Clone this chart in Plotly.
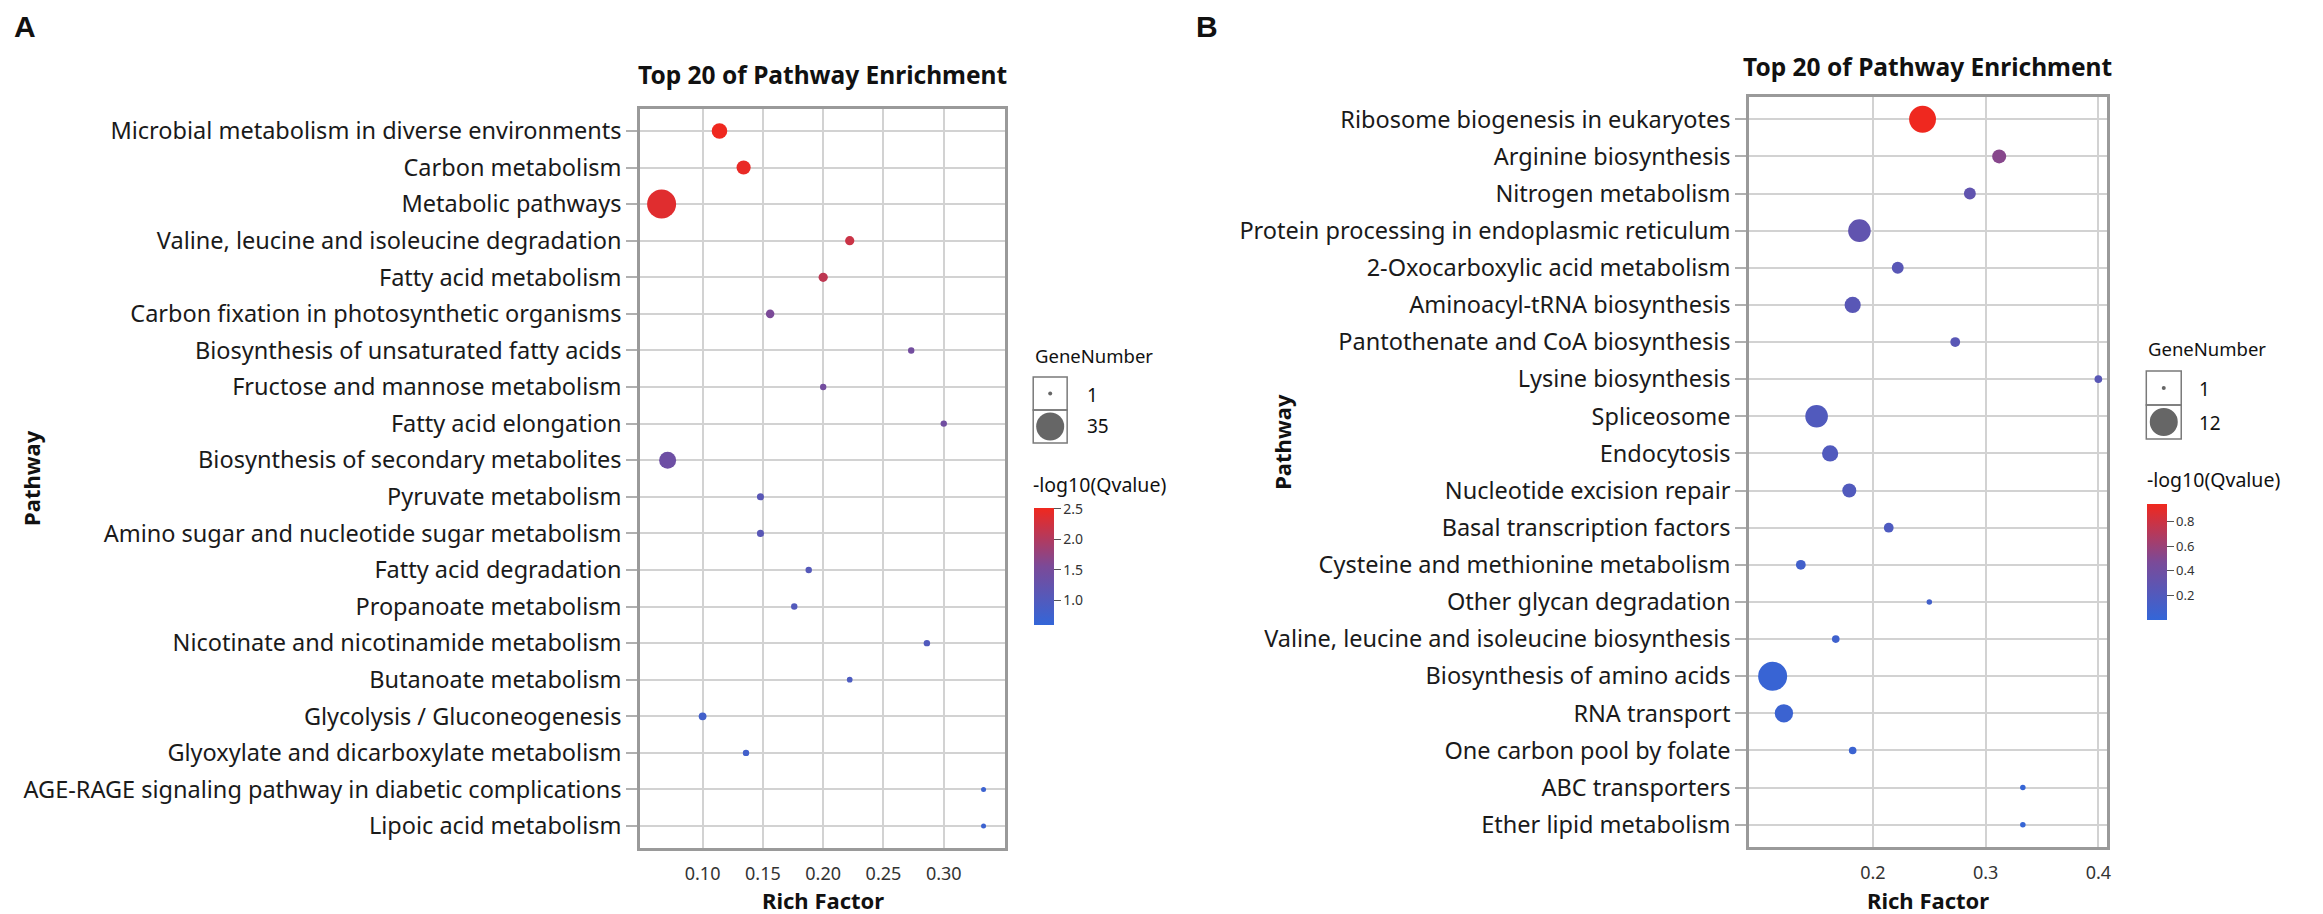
import plotly.graph_objects as go

W, H = 2323, 914

# ---------------- Panel A data ----------------
pathways_a = [
    "Microbial metabolism in diverse environments",
    "Carbon metabolism",
    "Metabolic pathways",
    "Valine, leucine and isoleucine degradation",
    "Fatty acid metabolism",
    "Carbon fixation in photosynthetic organisms",
    "Biosynthesis of unsaturated fatty acids",
    "Fructose and mannose metabolism",
    "Fatty acid elongation",
    "Biosynthesis of secondary metabolites",
    "Pyruvate metabolism",
    "Amino sugar and nucleotide sugar metabolism",
    "Fatty acid degradation",
    "Propanoate metabolism",
    "Nicotinate and nicotinamide metabolism",
    "Butanoate metabolism",
    "Glycolysis / Gluconeogenesis",
    "Glyoxylate and dicarboxylate metabolism",
    "AGE-RAGE signaling pathway in diabetic complications",
    "Lipoic acid metabolism",
]
rich_a = [0.114, 0.134, 0.066, 0.222, 0.200, 0.156, 0.273, 0.200, 0.300, 0.071,
          0.148, 0.148, 0.188, 0.176, 0.286, 0.222, 0.100, 0.136, 0.333, 0.333]
genes_a = [16, 14, 35, 7, 7, 6, 3, 3, 3, 18, 4, 4, 3, 3, 3, 2, 5, 3, 1, 1]
qval_a = [2.50, 2.45, 2.38, 2.20, 2.10, 1.55, 1.45, 1.45, 1.42, 1.38,
          1.10, 1.10, 1.05, 1.02, 1.00, 0.95, 0.80, 0.80, 0.72, 0.72]
xticks_a = [0.10, 0.15, 0.20, 0.25, 0.30]
cticks_a = [1.0, 1.5, 2.0, 2.5]

# ---------------- Panel B data ----------------
pathways_b = [
    "Ribosome biogenesis in eukaryotes",
    "Arginine biosynthesis",
    "Nitrogen metabolism",
    "Protein processing in endoplasmic reticulum",
    "2-Oxocarboxylic acid metabolism",
    "Aminoacyl-tRNA biosynthesis",
    "Pantothenate and CoA biosynthesis",
    "Lysine biosynthesis",
    "Spliceosome",
    "Endocytosis",
    "Nucleotide excision repair",
    "Basal transcription factors",
    "Cysteine and methionine metabolism",
    "Other glycan degradation",
    "Valine, leucine and isoleucine biosynthesis",
    "Biosynthesis of amino acids",
    "RNA transport",
    "One carbon pool by folate",
    "ABC transporters",
    "Ether lipid metabolism",
]
rich_b = [0.244, 0.312, 0.286, 0.188, 0.222, 0.182, 0.273, 0.400, 0.150, 0.162,
          0.179, 0.214, 0.136, 0.250, 0.167, 0.111, 0.121, 0.182, 0.333, 0.333]
genes_b = [11, 5, 4, 9, 4, 6, 3, 2, 9, 6, 5, 3, 3, 1, 2, 12, 7, 2, 1, 1]
qval_b = [0.94, 0.52, 0.30, 0.30, 0.25, 0.25, 0.25, 0.25, 0.20, 0.20,
          0.20, 0.18, 0.10, 0.10, 0.08, 0.03, 0.05, 0.05, 0.02, 0.02]
xticks_b = [0.2, 0.3, 0.4]
cticks_b = [0.2, 0.4, 0.6, 0.8]

colorscale = [[0.0, "#3366D8"], [0.5, "#7B4A98"], [1.0, "#F0281E"]]
FONT = "Noto Sans"


def px(x):
    return x / W


def py(y):
    return 1 - y / H


def sizes(genes, dmin, dmax):
    lo, hi = min(genes), max(genes)
    return [dmin + (g - lo) / (hi - lo) * (dmax - dmin) for g in genes]


fig = go.Figure()

fig.add_trace(go.Scatter(
    x=rich_a, y=pathways_a, mode="markers", xaxis="x", yaxis="y",
    marker=dict(size=sizes(genes_a, 5, 29), color=qval_a, coloraxis="coloraxis",
                line=dict(width=0), opacity=1),
    showlegend=False, hoverinfo="x+y"))
fig.add_trace(go.Scatter(
    x=rich_b, y=pathways_b, mode="markers", xaxis="x2", yaxis="y2",
    marker=dict(size=sizes(genes_b, 5.5, 29), color=qval_b, coloraxis="coloraxis2",
                line=dict(width=0), opacity=1),
    showlegend=False, hoverinfo="x+y"))

axis_common = dict(showline=True, mirror=True, linecolor="#9a9a9a", linewidth=2.5,
                   showgrid=True, gridcolor="#d2d2d2", gridwidth=1.5, zeroline=False)

fig.update_layout(
    width=W, height=H, margin=dict(l=0, r=0, t=0, b=0),
    paper_bgcolor="white", plot_bgcolor="white",
    font=dict(family=FONT, color="#222222"),
    xaxis=dict(domain=[px(641), px(1007)], range=[0.048, 0.351], anchor="y",
               tickvals=xticks_a, tickformat=".2f", ticks="",
               tickfont=dict(size=18, color="#333333"), ticklabelstandoff=8,
               **axis_common),
    yaxis=dict(domain=[py(848), py(109)], anchor="x", type="category",
               categoryorder="array", categoryarray=pathways_a, range=[19.6, -0.6],
               ticks="outside", ticklen=11, tickcolor="#b0b0b0", tickwidth=1.5,
               tickfont=dict(size=23.5, color="#1a1a1a"), **axis_common),
    xaxis2=dict(domain=[px(1752), px(2111)], range=[0.09, 0.408], anchor="y2",
                tickvals=xticks_b, tickformat=".1f", ticks="",
                tickfont=dict(size=18, color="#333333"), ticklabelstandoff=8,
                **axis_common),
    yaxis2=dict(domain=[py(847), py(97)], anchor="x2", type="category",
                categoryorder="array", categoryarray=pathways_b, range=[19.6, -0.6],
                ticks="outside", ticklen=11, tickcolor="#b0b0b0", tickwidth=1.5,
                tickfont=dict(size=23.5, color="#1a1a1a"), **axis_common),
    coloraxis=dict(colorscale=colorscale, cmin=0.6, cmax=2.51,
                   colorbar=dict(x=px(1036), xanchor="left", y=py(508), yanchor="top",
                                 len=117, lenmode="pixels", thickness=20,
                                 xpad=0, ypad=0, outlinewidth=0,
                                 tickvals=cticks_a, tickformat=".1f",
                                 ticks="outside", ticklen=7, tickcolor="#555555",
                                 tickfont=dict(size=14, color="#333333"))),
    coloraxis2=dict(colorscale=colorscale, cmin=0.0, cmax=0.945,
                    colorbar=dict(x=px(2151), xanchor="left", y=py(504), yanchor="top",
                                  len=116, lenmode="pixels", thickness=20,
                                  xpad=0, ypad=0, outlinewidth=0,
                                  tickvals=cticks_b, tickformat=".1f",
                                  ticks="outside", ticklen=7, tickcolor="#555555",
                                  tickfont=dict(size=13, color="#333333"))),
)

ann = []


def text(x, y, s, size, bold=False, xanchor="center", angle=0, family=FONT):
    ann.append(dict(x=px(x), y=py(y), xref="paper", yref="paper", text=s,
                    showarrow=False, xanchor=xanchor, yanchor="middle",
                    textangle=angle,
                    font=dict(size=size, family=family, color="#111111",
                              weight="bold" if bold else "normal")))


# panel letters
text(12, 26, "A", 30, bold=True, xanchor="left", family="Liberation Sans")
text(1196, 26, "B", 30, bold=True, xanchor="left", family="Liberation Sans")
# titles
text(824, 74, "Top 20 of Pathway Enrichment", 24.5, bold=True)
text(1931, 66, "Top 20 of Pathway Enrichment", 24.5, bold=True)
# axis titles
text(824, 900, "Rich Factor", 22, bold=True)
text(1931, 900, "Rich Factor", 22, bold=True)
text(31, 478, "Pathway", 22, bold=True, angle=-90)
text(1284, 442, "Pathway", 22, bold=True, angle=-90)
# legends
text(1035, 355, "GeneNumber", 18.5, xanchor="left")
text(1087, 395, "1", 19, xanchor="left")
text(1087, 426, "35", 19, xanchor="left")
text(1033, 484, "-log10(Qvalue)", 19.5, xanchor="left")
text(2150, 348, "GeneNumber", 18.5, xanchor="left")
text(2201, 389, "1", 19, xanchor="left")
text(2201, 423, "12", 19, xanchor="left")
text(2149, 480, "-log10(Qvalue)", 19.5, xanchor="left")

shapes = []


def rect(x0, y0, x1, y1):
    shapes.append(dict(type="rect", xref="paper", yref="paper",
                       x0=px(x0), x1=px(x1), y0=py(y1), y1=py(y0),
                       line=dict(color="#7a7a7a", width=1.5), fillcolor="rgba(0,0,0,0)"))


def dot(cx, cy, d):
    r = d / 2
    shapes.append(dict(type="circle", xref="paper", yref="paper",
                       xsizemode="pixel", ysizemode="pixel",
                       xanchor=px(cx), yanchor=py(cy),
                       x0=-r, x1=r, y0=-r, y1=r,
                       line=dict(width=0), fillcolor="#666666"))


rect(1035, 377, 1069, 410)
rect(1035, 410, 1069, 443)
dot(1052, 393.5, 4)
dot(1052, 426.5, 28)
rect(2150, 371, 2185, 405)
rect(2150, 405, 2185, 439)
dot(2167.5, 388, 4)
dot(2167.5, 422, 28)

fig.update_layout(annotations=ann, shapes=shapes)

fig.write_html("out.html", config={"displayModeBar": False},
               post_script="document.body.style.margin='0';")
